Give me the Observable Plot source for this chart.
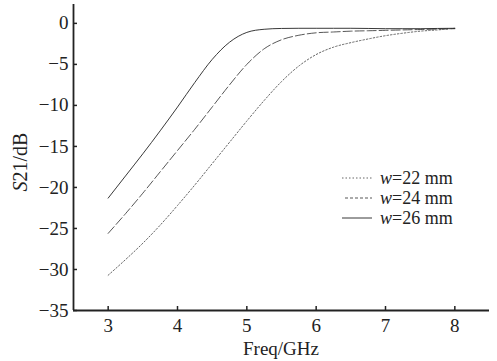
<!DOCTYPE html>
<html><head><meta charset="utf-8">
<script src="https://cdn.jsdelivr.net/npm/d3@7"></script>
<script src="https://cdn.jsdelivr.net/npm/@observablehq/plot@0.6"></script>
<style>
body{margin:0;background:#fff}
#chart svg{font-family:"Liberation Serif",serif}
</style>
</head><body><div id="chart"></div>
<script>
const freq = [3,3.25,3.5,3.75,4,4.25,4.5,4.75,5,5.25,5.5,5.75,6,6.25,6.5,6.75,7,7.25,7.5,7.75,8];
const w22 = [-30.7,-28.8,-26.8,-24.6,-22.2,-19.7,-17.1,-14.5,-11.9,-9.4,-7.1,-5.2,-3.8,-2.9,-2.35,-1.9,-1.5,-1.2,-0.95,-0.8,-0.6];
const w24 = [-25.6,-23.2,-20.7,-18.1,-15.5,-12.9,-10.2,-7.5,-5.0,-3.1,-2.0,-1.45,-1.15,-1.05,-0.95,-0.9,-0.85,-0.8,-0.75,-0.7,-0.65];
const w26 = [-21.3,-18.6,-15.9,-13.1,-10.2,-7.2,-4.4,-2.3,-1.1,-0.72,-0.62,-0.6,-0.6,-0.6,-0.6,-0.62,-0.65,-0.65,-0.65,-0.62,-0.6];
const seriesNames = ["22","24","26"];
const xTicks = [3,4,5,6,7,8];
const yTicks = [0,-5,-10,-15,-20,-25,-30,-35];

const styles = {
  "22": {stroke:"#555", dash:"1.5,2"},
  "24": {stroke:"#444", dash:"9,3"},
  "26": {stroke:"#222", dash:null}
};
const allSeries = [w22, w24, w26];
const rows = [];
seriesNames.forEach((s, i) => freq.forEach((f, j) => rows.push({w: s, f, v: allSeries[i][j]})));

const W = 497, H = 361, mL = 73, mR = 8, mT = 4, mB = 51;
const innerH = H - mT - mB, innerW = W - mL - mR;

const lineMarks = seriesNames.map(s => Plot.line(rows.filter(d => d.w === s), {
  x: "f", y: "v", stroke: styles[s].stroke, strokeWidth: 0.9,
  strokeDasharray: styles[s].dash, curve: "monotone-x"
}));

const chart = Plot.plot({
  width: W, height: H,
  marginLeft: mL, marginRight: mR, marginTop: mT, marginBottom: mB,
  style: {fontFamily: '"Liberation Serif", serif', fontSize: "19px", background: "#fff", color: "#222"},
  x: {domain: [2.5, 8.5]},
  y: {domain: [-35, 2.3]},
  marks: [
    ...lineMarks,
    Plot.axisX(xTicks, {tickSize: 0, tickPadding: 8, label: null, fontSize: 19, fill: "#222"}),
    Plot.axisY(yTicks, {tickSize: 0, tickPadding: 5, label: null, fontSize: 19, fill: "#222"}),
    Plot.ruleX(xTicks, {x: d => d, insetTop: innerH - 4, stroke: "#222", strokeWidth: 1.5}),
    Plot.ruleY(yTicks, {y: d => d, insetRight: innerW - 4, stroke: "#222", strokeWidth: 1.5}),
    Plot.ruleX([2.5], {stroke: "#222", strokeWidth: 1.8}),
    Plot.ruleY([-35], {stroke: "#222", strokeWidth: 1.8})
  ]
});
document.getElementById("chart").appendChild(chart);

const svg = d3.select(chart);
// axis labels
svg.append("text").attr("x", (mL + W - mR) / 2).attr("y", 355)
  .attr("text-anchor", "middle").attr("font-size", 19).attr("fill", "#222").text("Freq/GHz");
const yl = svg.append("text").attr("transform", `translate(27,${(mT + H - mB) / 2 + 5}) rotate(-90)`)
  .attr("text-anchor", "middle").attr("font-size", 20).attr("fill", "#222");
yl.append("tspan").attr("font-style", "italic").text("S");
yl.append("tspan").text("21/dB");

// legend
const legendY = [178, 198, 218];
seriesNames.forEach((s, i) => {
  const g = svg.append("g").attr("transform", `translate(0,${legendY[i]})`);
  g.append("line").attr("x1", s === "24" ? 345 : 342).attr("x2", 372).attr("y1", 0).attr("y2", 0)
    .attr("stroke", styles[s].stroke).attr("stroke-width", 0.9)
    .attr("stroke-dasharray", s === "24" ? "3,2" : styles[s].dash);
  const t = g.append("text").attr("x", 380).attr("y", 6).attr("text-anchor", "start")
    .attr("font-size", 18).attr("fill", "#222");
  t.append("tspan").attr("font-style", "italic").text("w");
  t.append("tspan").text("=" + s + " mm");
});
</script>
</body></html>
